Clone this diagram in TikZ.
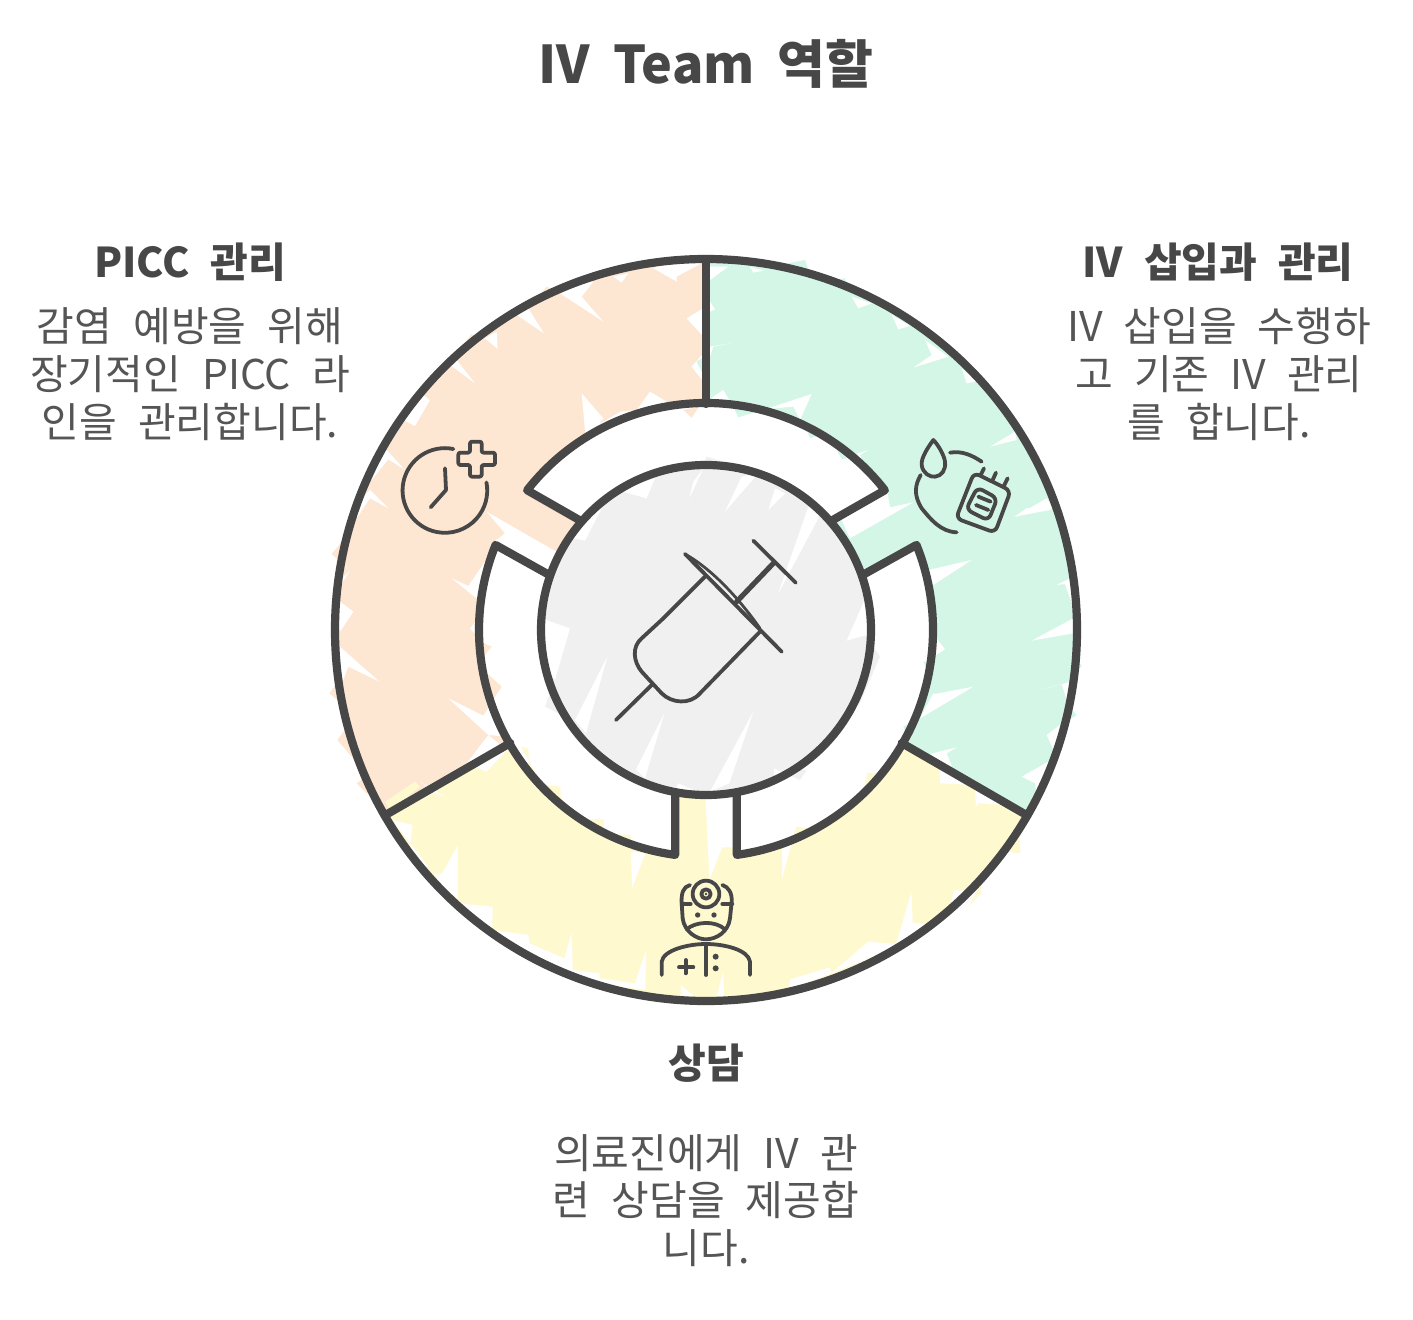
\documentclass[tikz,border=0pt]{standalone}
\usepackage{fontspec}
\setmainfont{Noto Sans CJK KR}
\newcommand{\bodyfontset}{\fontsize{20.5}{24}\selectfont\fontdimen2\font=10.5pt\relax}
\newcommand{\headfontset}{\fontsize{20.5}{24}\selectfont\bfseries\fontdimen2\font=10.5pt\relax}
\newcommand{\titlefontset}{\fontsize{26}{30}\selectfont\bfseries\fontdimen2\font=11.5pt\relax}
\definecolor{ink}{HTML}{474747}
\definecolor{bodyink}{HTML}{555555}
\definecolor{peach}{HTML}{FDE6D2}
\definecolor{mint}{HTML}{D4F6E7}
\definecolor{butter}{HTML}{FFF9D0}
\definecolor{greyfill}{HTML}{F0F0F0}
\tikzset{
  zoomed/.style 2 args={shift={(#1,#2)},scale=0.33333},
  zoomedwide/.style 2 args={shift={(#1,#2)},xscale=0.41454,yscale=0.33333},
  wh/.style={fill=white,draw=none},
  thickline/.style={draw=ink,line width=4.1pt,line join=round,line cap=round},
  icon/.style={draw=ink,line width=1.9pt,line join=round,line cap=round},
  heading/.style={text=ink,font=\headfontset,anchor=center,inner sep=0pt},
  bodytext/.style={text=bodyink,font=\bodyfontset,anchor=center,inner sep=0pt},
  titletext/.style={text=ink,font=\titlefontset,anchor=center,inner sep=0pt},
}
\begin{document}
\begin{tikzpicture}[x=0.5pt,y=-0.5pt]
\useasboundingbox (0,0) rectangle (1413,1320);
\fill[white] (0,0) rectangle (1413,1320);
% sector fills
\begin{scope}[shift={(706,630)}]
\fill[peach] (0,0) -- (150:371) arc[start angle=150,end angle=270,radius=371] -- cycle;
\fill[mint] (0,0) -- (270:371) arc[start angle=270,end angle=390,radius=371] -- cycle;
\fill[butter] (0,0) -- (30:371) arc[start angle=30,end angle=150,radius=371] -- cycle;
\end{scope}
% hachure gaps, peach upper
\begin{scope}[zoomed={320}{250}]
\fill[wh] (720,130) -- (850,215) -- (785,140) -- (820,95) -- (760,105) -- cycle;
\fill[wh] (590,195) -- (672,250) -- (625,175) -- cycle;
\fill[wh] (495,265) -- (533,297) -- (530,245) -- cycle;
\fill[wh] (390,345) -- (465,400) -- (410,330) -- cycle;
\fill[wh] (330,450) -- (285,528) -- (250,510) -- (290,420) -- cycle;
\fill[wh] (200,600) -- (255,660) -- (205,628) -- (155,690) -- (140,665) -- cycle;
\fill[wh] (150,720) -- (205,775) -- (150,745) -- (100,820) -- (110,760) -- cycle;
\fill[wh] (1100,205) -- (1150,260) -- (1150,175) -- cycle;
\fill[wh] (1115,350) -- (1150,395) -- (1150,310) -- cycle;
\fill[mint] (1130,335) -- (1150,375) -- (1150,322) -- cycle;
\fill[wh] (880,80) -- (905,98) -- (925,70) -- cycle;
\fill[wh] (1000,55) -- (1070,95) -- (1070,80) -- (1145,40) -- (1050,35) -- cycle;
\fill[wh] (785,430) -- (850,505) -- (835,525) -- (900,485) -- (950,480) -- (990,425) -- (1090,485) -- (1000,560) -- (800,600) -- cycle;
\fill[wh] (500,785) -- (700,900) -- (760,930) -- (720,1010) -- (510,885) -- (555,850) -- cycle;
\end{scope}
% peach lower
\begin{scope}[zoomed={320}{530}]
\fill[wh] (395,145) -- (445,168) -- (505,80) -- (500,230) -- cycle;
\fill[wh] (450,295) -- (485,255) -- (485,335) -- cycle;
\fill[wh] (385,505) -- (490,557) -- (540,480) -- (560,620) -- (505,615) -- cycle;
\fill[wh] (505,615) -- (440,700) -- (415,690) -- (500,725) -- (560,660) -- cycle;
\fill[wh] (60,215) -- (100,245) -- (60,305) -- (45,250) -- cycle;
\fill[wh] (60,350) -- (178,455) -- (85,410) -- (70,450) -- (45,380) -- cycle;
\fill[wh] (70,100) -- (90,122) -- (65,160) -- (50,130) -- cycle;
\fill[wh] (300,755) -- (375,800) -- (345,790) -- cycle;
\end{scope}
% mint upper
\begin{scope}[zoomed={700}{250}]
\fill[wh] (455,140) -- (475,175) -- (515,160) -- cycle;
\fill[wh] (575,195) -- (595,238) -- (630,228) -- cycle;
\fill[wh] (675,270) -- (695,315) -- (640,353) -- (745,320) -- cycle;
\fill[wh] (785,355) -- (800,400) -- (830,395) -- cycle;
\fill[wh] (950,570) -- (870,590) -- (945,545) -- cycle;
\fill[wh] (1060,775) -- (945,800) -- (1040,745) -- cycle;
\fill[wh] (30,90) -- (85,50) -- (30,50) -- cycle;
\fill[wh] (30,155) -- (45,178) -- (30,185) -- cycle;
\fill[wh] (30,290) -- (93,280) -- (40,290) -- (30,320) -- cycle;
\fill[wh] (25,450) -- (70,420) -- (90,455) -- (25,470) -- cycle;
\fill[wh] (335,432) -- (195,478) -- (280,470) -- (300,510) -- cycle;
\fill[wh] (505,600) -- (460,615) -- (490,640) -- (480,615) -- cycle;
\fill[wh] (640,757) -- (450,865) -- (420,800) -- (560,715) -- (570,772) -- cycle;
\fill[wh] (150,50) -- (190,62) -- (160,68) -- cycle;
\end{scope}
% mint lower
\begin{scope}[zoomed={840}{510}]
\fill[wh] (395,150) -- (280,225) -- (265,180) -- cycle;
\fill[wh] (285,380) -- (315,418) -- (280,440) -- cycle;
\fill[wh] (400,530) -- (240,625) -- (280,550) -- (285,552) -- cycle;
\fill[wh] (350,712) -- (270,732) -- (340,780) -- (320,730) -- cycle;
\fill[wh] (650,225) -- (690,205) -- (700,295) -- (675,222) -- cycle;
\fill[wh] (700,325) -- (575,392) -- (700,370) -- cycle;
\fill[wh] (675,520) -- (598,540) -- (665,522) -- (690,600) -- (705,510) -- cycle;
\fill[wh] (660,645) -- (620,675) -- (645,730) -- (670,700) -- cycle;
\fill[wh] (625,755) -- (545,800) -- (585,820) -- (590,860) -- (630,790) -- cycle;
\fill[wh] (523,20) -- (630,0) -- (640,-15) -- (560,-5) -- cycle;
\fill[wh] (300,785) -- (300,820) -- (405,825) -- (408,890) -- (415,880) -- (510,885) -- (540,905) -- (420,825) -- (300,755) -- cycle;
\end{scope}
% yellow
\begin{scope}[zoomedwide={380}{740}]
\fill[wh] (30,240) -- (78,255) -- (70,365) -- (150,400) -- (188,315) -- (188,490) -- (272,500) -- (270,570) -- (358,585) -- (360,610) -- (445,655) -- (462,578) -- (465,690) -- (530,700) -- (530,715) -- (615,730) -- (642,630) -- (640,750) -- (500,725) -- (300,605) -- (150,435) -- cycle;
\fill[wh] (725,735) -- (728,765) -- (760,770) -- cycle;
\fill[wh] (828,695) -- (812,770) -- (830,770) -- cycle;
\fill[wh] (985,750) -- (990,718) -- (1085,682) -- (1088,700) -- (1178,605) -- (1245,612) -- (1282,455) -- (1285,548) -- (1365,555) -- (1385,450) -- (1450,458) -- (1400,525) -- (1180,655) -- cycle;
\fill[wh] (605,335) -- (608,445) -- (640,340) -- cycle;
\fill[wh] (785,170) -- (795,420) -- (825,322) -- (855,322) -- (855,160) -- cycle;
\fill[wh] (700,165) -- (685,340) -- (705,350) -- cycle;
\fill[wh] (970,415) -- (1003,262) -- (970,330) -- cycle;
\end{scope}
% ring white fill
\begin{scope}[shift={(706,630)}]
\fill[white] (221:167) -- (218:227) arc[start angle=218,end angle=322,radius=227] -- (319:167) -- cycle;
\fill[white] (-19.4:167) -- (-22:227) arc[start angle=-22,end angle=82.2,radius=227] -- (79.4:167) -- cycle;
\fill[white] (100.6:167) -- (97.8:227) arc[start angle=97.8,end angle=202,radius=227] -- (199.4:167) -- cycle;
\end{scope}
% fill pokes
\begin{scope}[zoomed={320}{530}]
\fill[peach] (70,30) -- (35,72) -- (90,122) -- (70,140) -- cycle;
\fill[peach] (28,490) -- (50,460) -- (70,525) -- cycle;
\fill[peach] (52,630) -- (105,560) -- (120,680) -- (100,685) -- cycle;
\fill[peach] (110,760) -- (150,730) -- (165,790) -- (140,790) -- cycle;
\fill[peach] (515,350) -- (490,380) -- (470,330) -- cycle;
\fill[peach] (545,470) -- (515,515) -- (490,420) -- cycle;
\fill[butter] (195,815) -- (285,755) -- (300,770) -- (210,840) -- cycle;
\end{scope}
\begin{scope}[zoomed={320}{250}]
\fill[peach] (1090,480) -- (1115,503) -- (1137,470) -- cycle;
\fill[peach] (680,110) -- (700,120) -- (660,135) -- cycle;
\fill[peach] (455,252) -- (470,265) -- (430,285) -- cycle;
\fill[peach] (62,880) -- (75,865) -- (85,900) -- (60,900) -- cycle;
\end{scope}
\begin{scope}[zoomed={700}{250}]
\fill[mint] (150,60) -- (240,45) -- (315,30) -- (325,60) -- (200,50) -- cycle;
\fill[mint] (340,100) -- (435,85) -- (445,120) -- (360,90) -- cycle;
\fill[mint] (115,502) -- (90,450) -- (195,478) -- cycle;
\fill[mint] (320,540) -- (385,545) -- (330,565) -- cycle;
\fill[mint] (410,600) -- (460,620) -- (425,628) -- cycle;
\end{scope}
\begin{scope}[zoomed={840}{510}]
\fill[mint] (250,455) -- (278,455) -- (268,500) -- cycle;
\fill[mint] (190,650) -- (235,625) -- (205,690) -- cycle;
\fill[mint] (700,440) -- (726,468) -- (700,490) -- cycle;
\fill[mint] (692,595) -- (710,615) -- (680,635) -- cycle;
\end{scope}
\begin{scope}[zoomedwide={380}{740}]
\fill[butter] (340,20) -- (358,25) -- (360,130) -- (435,140) -- (438,235) -- (540,238) -- (540,280) -- (605,285) -- (605,335) -- (500,290) -- (430,220) -- cycle;
\fill[butter] (1005,260) -- (1090,275) -- (1095,225) -- (1160,228) -- (1175,98) -- (1255,105) -- (1265,50) -- (1200,150) -- (1050,280) -- (990,310) -- cycle;
\fill[butter] (1450,430) -- (1450,460) -- (1420,500) -- cycle;
\fill[butter] (1540,240) -- (1545,340) -- (1510,335) -- cycle;
\fill[butter] (72,360) -- (150,400) -- (120,405) -- cycle;
\end{scope}
% disc
\fill[greyfill] (706,630) circle[radius=165];
\begin{scope}
\clip (706,630) circle[radius=165];
\begin{scope}[zoomed={530}{450}]
\fill[wh] (585,185) -- (635,80) -- (685,70) -- cycle;
\fill[wh] (715,180) -- (735,115) -- (765,130) -- cycle;
\fill[wh] (478,145) -- (520,55) -- (490,95) -- cycle;
\fill[wh] (835,170) -- (745,430) -- (865,205) -- (870,170) -- cycle;
\fill[wh] (950,572) -- (1010,435) -- (1035,590) -- (1010,555) -- cycle;
\fill[wh] (260,120) -- (350,145) -- (375,85) -- cycle;
\fill[wh] (105,260) -- (165,272) -- (215,175) -- (150,195) -- cycle;
\fill[wh] (20,500) -- (120,535) -- (75,690) -- (40,640) -- cycle;
\fill[wh] (232,620) -- (135,810) -- (168,850) -- cycle;
\fill[wh] (403,790) -- (318,958) -- (345,985) -- cycle;
\fill[wh] (670,785) -- (598,1000) -- (540,1025) -- cycle;
\fill[wh] (445,1000) -- (535,1040) -- (430,1030) -- cycle;
\fill[wh] (732,955) -- (810,990) -- (730,1015) -- cycle;
\end{scope}
\end{scope}
\begin{scope}[zoomed={530}{450}]
\fill[greyfill] (1010,558) -- (1050,620) -- (985,770) -- cycle;
\fill[greyfill] (45,770) -- (75,690) -- (85,790) -- cycle;
\fill[greyfill] (530,20) -- (610,45) -- (520,40) -- cycle;
\fill[greyfill] (732,955) -- (830,960) -- (810,990) -- cycle;
\end{scope}
% outlines
\draw[thickline] (706,630) circle[radius=371];
\begin{scope}[shift={(706,630)}]
\coordinate (topout) at (270:371); \coordinate (topin) at (270:226);
\coordinate (rout) at (30:371); \coordinate (rin) at (30:226);
\coordinate (lout) at (150:371); \coordinate (lin) at (150:226);
\draw[thickline] (topout) -- (topin);
\draw[thickline] (rout) -- (rin);
\draw[thickline] (lout) -- (lin);
\draw[thickline] (221:167) -- (218:227) arc[start angle=218,end angle=322,radius=227] -- (319:167);
\draw[thickline] (-19.4:167) -- (-22:227) arc[start angle=-22,end angle=82.2,radius=227] -- (79.4:167);
\draw[thickline] (100.6:167) -- (97.8:227) arc[start angle=97.8,end angle=202,radius=227] -- (199.4:167);
\draw[thickline] (0,0) circle[radius=165];
\end{scope}
% clock icon
\begin{scope}[zoomed={390}{430}]
\draw[icon] (190,57) arc[start angle=281.5,end angle=-11,radius=127];
\draw[icon] (165,115) -- (168,180) -- (122,232);
\draw[icon,rounded corners=1pt] (240,35) -- (275,35) -- (275,68) -- (315,68) -- (315,105) -- (275,105) -- (275,140) -- (240,140) -- (240,105) -- (205,105) -- (205,68) -- (240,68) -- cycle;
\end{scope}
% IV bag icon
\begin{scope}[zoomed={900}{430}]
\draw[icon] (100,30) .. controls (85,50) and (62,85) .. (65,105) .. controls (68,130) and (90,142) .. (105,140) .. controls (125,138) and (138,120) .. (135,95) .. controls (132,75) and (115,45) .. (100,30) -- cycle;
\draw[icon] (62,135) .. controls (45,165) and (40,195) .. (65,235) .. controls (90,265) and (120,305) .. (170,307);
\draw[icon] (150,68) .. controls (185,62) and (215,75) .. (245,95);
\draw[icon,rounded corners=3pt] (222,128) -- (332,182) -- (285,308) -- (168,265) -- cycle;
\draw[icon,rounded corners=3pt] (232,172) -- (292,205) -- (265,272) -- (198,238) -- cycle;
\draw[icon] (235,200) -- (272,215);
\draw[icon] (228,225) -- (265,240);
\draw[icon] (252,115) -- (242,135);
\draw[icon] (288,128) -- (278,150);
\draw[icon] (323,145) -- (312,167);
\end{scope}
% doctor icon
\begin{scope}[zoomed={645}{870}]
\draw[icon] (183,72) circle[radius=40];
\draw[icon] (183,72) circle[radius=14];
\fill[ink] (183,72) circle[radius=4];
\draw[icon] (135,45) .. controls (115,50) and (108,70) .. (110,100) -- (113,145) .. controls (118,185) and (155,208) .. (182,208) .. controls (215,208) and (250,185) .. (255,145) -- (260,95) .. controls (262,70) and (250,50) .. (232,45);
\draw[icon] (110,102) -- (137,102);
\draw[icon] (232,102) -- (262,102);
\fill[ink] (158,135) circle[radius=8];
\fill[ink] (207,135) circle[radius=8];
\draw[icon] (125,178) .. controls (150,155) and (210,150) .. (240,178);
\draw[icon] (50,315) -- (50,275) .. controls (55,240) and (130,222) .. (182,222) .. controls (240,222) and (310,240) .. (315,275) -- (315,315);
\draw[icon] (183,230) -- (183,315);
\fill[ink] (212,260) circle[radius=9];
\fill[ink] (212,295) circle[radius=9];
\draw[icon] (102,292) -- (145,292);
\draw[icon] (122,270) -- (122,310);
\end{scope}
% syringe
\begin{scope}[zoomed={600}{530}]
\draw[icon] (255,72) -- (545,365);
\draw[icon,line width=1.4pt] (255,72) .. controls (340,120) and (420,210) .. (480,295);
\draw[icon] (315,140) -- (190,265) -- (125,325) .. controls (95,350) and (100,395) .. (125,425) -- (185,490) .. controls (215,520) and (270,525) .. (300,490) -- (480,305);
\draw[icon] (155,465) -- (48,570);
\draw[icon,line width=2.6pt] (410,215) -- (520,100);
\draw[icon] (460,32) -- (587,158);
\end{scope}
% text
\node[titletext] (title) at (706,64) {IV Team 역할};
\node[heading] (piccH) at (190,262) {PICC 관리};
\node[bodytext] (picc1) at (190,326) {감염 예방을 위해};
\node[bodytext] (picc2) at (190,374) {장기적인 PICC 라};
\node[bodytext] (picc3) at (190,422) {인을 관리합니다.};
\node[heading] (ivH) at (1218,262) {IV 삽입과 관리};
\node[bodytext] (iv1) at (1219,326) {IV 삽입을 수행하};
\node[bodytext] (iv2) at (1219,374) {고 기존 IV 관리};
\node[bodytext] (iv3) at (1219,422) {를 합니다.};
\node[heading] (consH) at (706,1063) {상담};
\node[bodytext] (cons1) at (706,1153) {의료진에게 IV 관};
\node[bodytext] (cons2) at (706,1200) {련 상담을 제공합};
\node[bodytext] (cons3) at (706,1248) {니다.};
\end{tikzpicture}
\end{document}
